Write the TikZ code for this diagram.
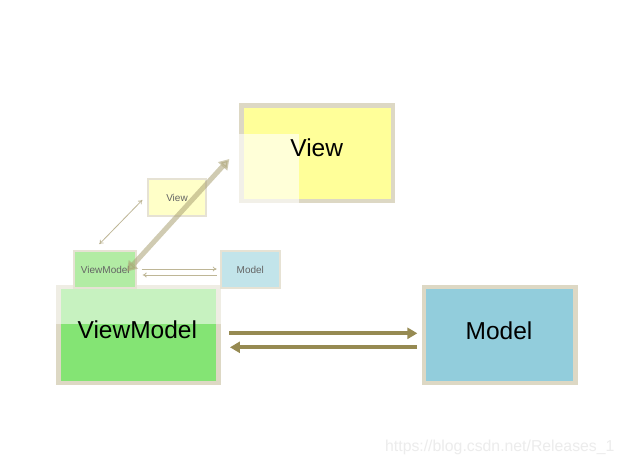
\documentclass[tikz,border=0pt]{standalone}
\usepackage{fontspec}
\setmainfont{Liberation Sans}
\usetikzlibrary{arrows.meta}
\definecolor{bordc}{RGB}{221,216,196}
\definecolor{viewy}{RGB}{255,255,153}
\definecolor{vmgreen}{RGB}{132,228,116}
\definecolor{modblue}{RGB}{146,205,220}
\definecolor{arrowol}{RGB}{150,138,82}
\definecolor{sbord}{RGB}{230,226,212}
\definecolor{sviewc}{RGB}{255,255,200}
\definecolor{svmc}{RGB}{178,236,164}
\definecolor{smodc}{RGB}{194,228,234}
\definecolor{sarrowc}{RGB}{190,182,150}
\definecolor{diagc}{RGB}{170,162,115}
\definecolor{wmark}{RGB}{236,236,236}
\definecolor{stext}{RGB}{100,100,100}
\tikzset{
 bigbox/.style={draw=bordc, line width=4.5bp, inner sep=0pt},
 bigtext/.style={inner sep=0pt, font=\fontsize{24.5bp}{29bp}\selectfont, text=black},
 smallbox/.style={draw=sbord, line width=2bp, inner sep=0pt, font=\fontsize{10bp}{12bp}\selectfont, text=stext},
 fadeover/.style={fill=white, draw=none},
 bigarrow/.style={draw=arrowol, line width=4bp, -{Triangle[length=10bp,width=11bp]}},
 smallarrow/.style={draw=sarrowc, line width=0.8bp},
 diagarrow/.style={draw=diagc, line width=5bp, opacity=0.55, {Triangle[length=10bp,width=12bp]}-{Triangle[length=10bp,width=12bp]}},
}
\begin{document}
\begin{tikzpicture}[x=1bp,y=-1bp]
\fill[white] (0,0) rectangle (622,463);
\useasboundingbox (0,0) rectangle (622,463);
% big boxes
\node[bigbox, fill=viewy, minimum width=151.2bp, minimum height=95.2bp] (bview) at (317.2,153.2) {};
\node[bigbox, fill=vmgreen, minimum width=160.4bp, minimum height=95.5bp] (bvm) at (138.5,335) {};
\node[bigbox, fill=modblue, minimum width=151.4bp, minimum height=96.3bp] (bmodel) at (499.7,335) {};
% fading overlays
\fill[fadeover, fill opacity=0.62] (239.3,134) rectangle (299,203);
\fill[fadeover, fill opacity=0.55] (56,285) rectangle (221,324);
% big labels
\node[bigtext] (tview) at (316.7,148) {View};
\node[bigtext] (tvm) at (137.3,330) {ViewModel};
\node[bigtext] (tmodel) at (499,331) {Model};
% small boxes
\node[smallbox, fill=sviewc, minimum width=58.6bp, minimum height=37bp] (smview) at (177,197.8) {View};
\node[smallbox, fill=svmc, minimum width=62bp, minimum height=37.3bp] (smvm) at (105.3,269.5) {ViewModel};
\node[smallbox, fill=smodc, minimum width=58.7bp, minimum height=36.3bp] (smmodel) at (250.3,269.5) {Model};
% small arrows
\draw[smallarrow, {To[length=4bp,width=5bp]}-{To[length=4bp,width=5bp]}] ([xshift=-6bp,yshift=5.7bp]smvm.north) -- ([xshift=-4.4bp,yshift=17.3bp]smview.south west);
\draw[smallarrow, -{To[length=4bp,width=5bp]}] ([xshift=4.4bp,yshift=0.5bp]smvm.east) -- ([xshift=-3.3bp,yshift=0.5bp]smmodel.west);
\draw[smallarrow, -{To[length=4bp,width=5bp]}] ([xshift=-3.3bp,yshift=-5.5bp]smmodel.west) -- ([xshift=5.4bp,yshift=-5.5bp]smvm.east);
% big arrows
\draw[bigarrow] ([xshift=8.3bp,yshift=1.7bp]bvm.east) -- ([xshift=-4.4bp,yshift=1.7bp]bmodel.west);
\draw[bigarrow] ([xshift=-4.7bp,yshift=-12.3bp]bmodel.west) -- ([xshift=9bp,yshift=-12.3bp]bvm.east);
% diagonal animated arrow
\draw[diagarrow] ([xshift=21.4bp,yshift=-2.2bp]smvm.center) -- ([xshift=-10bp,yshift=-5.8bp]bview.west);
% watermark
\node[anchor=base west, inner sep=0pt, text=wmark, font=\fontsize{15.8bp}{18bp}\selectfont] (wm) at (385,451) {https://blog.csdn.net/Releases\_1};
\end{tikzpicture}
\end{document}
